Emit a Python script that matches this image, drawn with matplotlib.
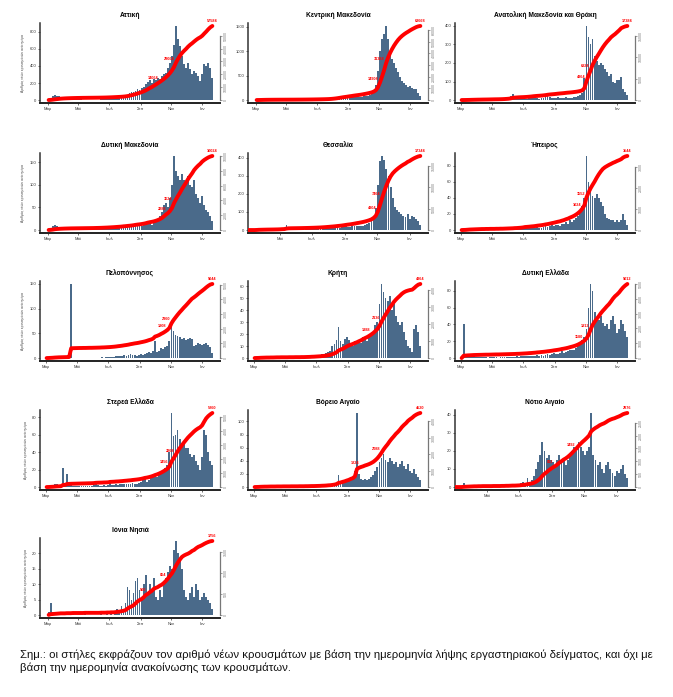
import numpy as np
import matplotlib.pyplot as plt

plt.rcParams['font.family'] = ['Liberation Sans', 'DejaVu Sans']

# daily new cases, mean per 4-day bin, starting 1 Mar 2020
attica = [
    5, 25, 45, 55, 50, 45, 40, 30,
    25, 20, 15, 15, 12, 10, 10, 8,
    8, 6, 5, 5, 5, 4, 4, 5,
    5, 6, 8, 8, 10, 12, 15,
    15, 18, 20, 20, 22, 25, 30, 40,
    60, 80, 90, 100, 110, 130, 120, 140,
    150, 190, 210, 230, 200, 250, 240,
    260, 250, 280, 300, 320, 380, 430, 520,
    650, 870, 720, 640, 520, 420, 380,
    430, 360, 300, 340, 320, 280, 220, 300,
    420, 400, 440, 380, 260]
kentriki_mak = [
    2, 5, 10, 12, 10, 8, 6, 5,
    4, 3, 3, 2, 2, 2, 2, 2,
    2, 2, 2, 3, 3, 3, 3, 4,
    4, 5, 5, 6, 6, 8, 8,
    8, 10, 10, 12, 15, 20, 30, 40,
    50, 60, 70, 75, 70, 60, 65, 70,
    60, 70, 65, 55, 60, 70, 80,
    80, 90, 100, 120, 170, 300, 600, 1000,
    1250, 1350, 1520, 1250, 1000, 850, 750,
    650, 580, 480, 400, 340, 300, 260, 280,
    250, 230, 220, 150, 80]
anat_mak = [
    0, 1, 2, 3, 3, 4, 3, 3,
    3, 2, 3, 2, 2, 2, 3, 3,
    3, 2, 2, 3, 4, 6, 8, 10,
    20, 30, 15, 10, 8, 6, 5,
    6, 8, 10, 12, 15, 12, 10, 8,
    10, 12, 15, 20, 15, 12, 10, 12,
    15, 12, 10, 12, 15, 12, 10,
    12, 15, 15, 20, 25, 40, 120, 400,
    340, 300, 330, 240, 210, 190, 200,
    190, 170, 150, 130, 140, 100, 90, 110,
    110, 125, 60, 45, 25]
dyt_mak = [
    2, 5, 8, 12, 8, 5, 4, 3,
    3, 2, 2, 2, 1, 1, 1, 1,
    1, 1, 1, 1, 1, 1, 1, 2,
    2, 2, 2, 3, 3, 3, 4,
    4, 4, 5, 5, 5, 6, 8, 6,
    8, 6, 8, 10, 12, 10, 8, 10,
    12, 15, 20, 15, 12, 15, 20,
    25, 30, 40, 55, 60, 50, 70, 100,
    164, 130, 120, 110, 125, 110, 105,
    120, 100, 95, 110, 80, 70, 60, 75,
    55, 45, 40, 30, 20]
thessalia = [
    0, 0, 0, 0, 5, 8, 4, 3,
    3, 3, 2, 2, 2, 3, 3, 5,
    8, 5, 30, 15, 3, 2, 2, 2,
    2, 2, 3, 3, 3, 4, 4,
    4, 5, 5, 6, 8, 8, 10, 10,
    12, 10, 12, 15, 12, 15, 18, 20,
    18, 15, 20, 22, 25, 20, 25,
    25, 30, 35, 40, 50, 80, 120, 250,
    380, 410, 390, 340, 300, 240, 180,
    130, 110, 100, 90, 80, 70, 90, 60,
    80, 70, 60, 50, 30]
ipeiros = [
    0, 1, 1, 2, 2, 1, 1, 1,
    1, 1, 1, 0, 1, 0, 1, 0,
    0, 1, 0, 1, 0, 1, 1, 1,
    1, 1, 2, 1, 2, 2, 3,
    5, 2, 2, 3, 2, 3, 4, 3,
    3, 4, 5, 4, 5, 6, 5, 6,
    6, 5, 8, 7, 10, 8, 12,
    10, 12, 15, 18, 22, 30, 40, 92,
    60, 50, 42, 40, 45, 40, 35,
    30, 20, 15, 14, 12, 13, 10, 12,
    10, 12, 20, 12, 6]
peloponnisos = [
    0, 1, 2, 2, 3, 2, 2, 1,
    1, 1, 1, 1, 150, 1, 1, 1,
    1, 0, 1, 0, 1, 1, 0, 1,
    1, 1, 1, 2, 1, 2, 2,
    2, 3, 3, 4, 5, 4, 5, 6,
    5, 6, 8, 6, 7, 5, 6, 8,
    7, 8, 10, 12, 10, 15, 35,
    12, 15, 20, 18, 22, 25, 35, 78,
    55, 46, 45, 42, 38, 40, 36,
    38, 40, 38, 25, 27, 30, 28, 26,
    28, 30, 27, 22, 10]
kriti = [
    0, 1, 1, 2, 1, 1, 1, 0,
    1, 0, 1, 1, 0, 1, 0, 0,
    0, 1, 0, 0, 1, 0, 0, 1,
    0, 1, 1, 1, 2, 1, 2,
    2, 2, 3, 3, 4, 5, 6, 10,
    12, 15, 26, 14, 12, 16, 18, 15,
    12, 10, 14, 12, 15, 13, 18,
    16, 14, 18, 20, 22, 28, 30, 45,
    62, 55, 50, 48, 52, 40, 45,
    35, 30, 28, 30, 22, 15, 10, 8,
    5, 24, 28, 22, 10]
dyt_ellada = [
    0, 40, 2, 3, 2, 2, 2, 1,
    1, 1, 1, 1, 1, 0, 1, 1,
    1, 1, 0, 1, 1, 1, 1, 1,
    1, 1, 1, 2, 1, 2, 2,
    2, 2, 3, 2, 3, 3, 4, 3,
    4, 3, 4, 5, 4, 5, 6, 5,
    5, 6, 8, 6, 7, 8, 10,
    9, 10, 12, 15, 18, 22, 25, 35,
    60, 88, 80, 55, 48, 45, 50,
    42, 38, 40, 35, 45, 50, 40, 30,
    35, 45, 40, 32, 25]
sterea = [
    0, 1, 2, 2, 3, 3, 2, 2,
    22, 2, 15, 2, 2, 1, 1, 1,
    1, 1, 1, 1, 1, 1, 1, 2,
    5, 2, 1, 1, 2, 1, 2,
    7, 2, 2, 3, 2, 3, 3, 4,
    3, 4, 3, 5, 4, 4, 5, 6,
    8, 10, 6, 8, 10, 12, 15,
    12, 15, 17, 20, 22, 25, 40, 85,
    58, 60, 65, 55, 48, 50, 45,
    45, 38, 35, 37, 30, 25, 20, 35,
    65, 60, 40, 30, 25]
voreio_aigaio = [
    0, 1, 1, 2, 1, 1, 0, 1,
    1, 0, 0, 1, 0, 0, 1, 0,
    0, 0, 1, 0, 0, 0, 1, 0,
    0, 1, 0, 1, 1, 0, 1,
    1, 1, 2, 1, 2, 3, 2, 4,
    5, 8, 18, 6, 10, 8, 12, 10,
    15, 12, 25, 113, 20, 12, 10,
    13, 10, 12, 15, 18, 25, 30, 38,
    45, 50, 42, 38, 45, 40, 35,
    38, 30, 35, 40, 32, 28, 35, 25,
    22, 28, 20, 15, 10]
notio_aigaio = [
    0, 0, 0, 0, 2, 1, 1, 1,
    1, 1, 0, 1, 0, 1, 0, 0,
    0, 0, 1, 0, 0, 0, 1, 0,
    1, 0, 1, 1, 0, 1, 1,
    2, 3, 2, 5, 3, 4, 6, 10,
    14, 18, 25, 20, 16, 18, 15, 14,
    12, 15, 18, 14, 16, 12, 15,
    18, 20, 22, 20, 25, 22, 20, 18,
    20, 22, 41, 18, 15, 12, 14,
    10, 8, 12, 14, 10, 8, 6, 9,
    8, 10, 12, 7, 5]
ionia = [
    1, 4, 1, 1, 1, 1, 1, 0,
    0, 1, 0, 0, 1, 0, 0, 0,
    0, 0, 1, 0, 0, 0, 0, 0,
    0, 0, 1, 0, 0, 1, 0,
    1, 0, 1, 2, 1, 3, 2, 4,
    9, 8, 5, 7, 11, 12, 8, 6,
    10, 13, 7, 10, 8, 12, 6,
    5, 8, 6, 10, 12, 14, 16, 15,
    21, 24, 20, 18, 15, 8, 6,
    5, 7, 9, 6, 10, 8, 5, 6,
    7, 6, 5, 4, 2]

region_names = ['Αττική', 'Κεντρική Μακεδονία', 'Ανατολική Μακεδονία και Θράκη',
                'Δυτική Μακεδονία', 'Θεσσαλία', 'Ήπειρος',
                'Πελοπόννησος', 'Κρήτη', 'Δυτική Ελλάδα',
                'Στερεά Ελλάδα', 'Βόρειο Αιγαίο', 'Νότιο Αιγαίο',
                'Ιόνια Νησιά']
region_series = [attica, kentriki_mak, anat_mak, dyt_mak, thessalia, ipeiros,
                 peloponnisos, kriti, dyt_ellada, sterea, voreio_aigaio,
                 notio_aigaio, ionia]
# bins where the cumulative total is written on the red line
label_bins = [[55, 63], [61, 64], [61, 63], [59, 62], [61, 63], [59, 61],
              [59, 61], [57, 62], [60, 63], [60, 63], [52, 62], [47, 57],
              [49, 59]]

month_days = [0, 61, 122, 184, 245, 306]
month_labels = ['Μαρ', 'Μαϊ', 'Ιουλ', 'Σεπ', 'Νοε', 'Ιαν']
ylabel_txt = 'Αριθμός νέων κρουσμάτων ανά ημέρα'
note_txt = ('Σημ.: οι στήλες εκφράζουν τον αριθμό νέων κρουσμάτων με βάση την ημερομηνία '
            'λήψης εργαστηριακού δείγματος, και όχι με\nβάση την ημερομηνία ανακοίνωσης '
            'των κρουσμάτων.')

BIN = 4
BAR = '#4a6a8a'
RED = '#ff0000'
W, H = 673, 697
col_left = [40, 248, 455]
row_top = [23, 153, 281, 410, 538]
ax_w, ax_h = 180, 80


def pretty_step(top, n=5):
    # R-like pretty() step
    cell = top / n
    u = 10 ** np.floor(np.log10(cell))
    unit = u
    if 2 * u - cell < 1.5 * (cell - unit):
        unit = 2 * u
        if 5 * u - cell < 2.75 * (cell - unit):
            unit = 5 * u
            if 10 * u - cell < 1.5 * (cell - unit):
                unit = 10 * u
    return unit


def draw_panel(fig, i, name, vals, lbins):
    r, c = divmod(i, 3)
    ax = fig.add_axes([col_left[c] / W, 1 - (row_top[r] + ax_h) / H, ax_w / W, ax_h / H])
    vals = np.array(vals, dtype=float)
    starts = np.arange(len(vals)) * BIN
    x = starts + BIN / 2
    ax.bar(x, vals, width=BIN * 0.88, color=BAR, linewidth=0)

    first = starts[np.nonzero(vals)[0][0]]
    last = starts[-1] + BIN
    span = last - first
    ax.set_xlim(first - 0.04 * span - 2, last + 0.04 * span)
    lo, hi = ax.get_xlim()
    ticks = [(d, l) for d, l in zip(month_days, month_labels) if lo <= d <= hi]
    ax.set_xticks([t[0] for t in ticks])
    ax.set_xticklabels([t[1] for t in ticks])

    m = vals.max()
    ax.set_ylim(-0.04 * m, 1.04 * m)
    st = pretty_step(m)
    ax.set_yticks(np.arange(0, 1.04 * m, st))
    ax.yaxis.set_major_formatter(plt.FuncFormatter(lambda v, p: f'{v:.0f}'))

    for s in ['top', 'right']:
        ax.spines[s].set_visible(False)
    ax.spines['left'].set_linewidth(1.1)
    ax.spines['left'].set_color('#333333')
    ax.spines['bottom'].set_linewidth(1.4)
    ax.spines['bottom'].set_color('#222222')
    ax.tick_params(axis='both', labelsize=3, length=1.5, width=0.5, pad=1.2, colors='#333333')
    ax.set_title(name, fontsize=4.8, fontweight='bold', pad=4)
    if c == 0:
        ax.set_ylabel(ylabel_txt, fontsize=2.4, labelpad=3, color='#444444')

    # cumulative cases on the right axis
    ax2 = ax.twinx()
    cum = np.cumsum(vals * BIN)
    cm = cum[-1]
    ax2.plot(x, cum, color=RED, lw=2.8, solid_capstyle='round', zorder=3)
    ax2.set_ylim(-0.04 * cm, 1.04 * cm)
    st2 = pretty_step(cm)
    rt = np.arange(0, 1.04 * cm, st2)
    ax2.set_yticks(rt)
    ax2.yaxis.set_major_formatter(plt.FuncFormatter(lambda v, p: f'{v:.0f}'))
    for s in ['top', 'left', 'bottom']:
        ax2.spines[s].set_visible(False)
    ax2.spines['right'].set_bounds(0, rt[-1])
    ax2.spines['right'].set_color('#777777')
    ax2.spines['right'].set_linewidth(0.9)
    ax2.tick_params(axis='y', labelsize=2.6, length=1.5, width=0.5, pad=1,
                    colors='#777777', labelrotation=90)
    for lab in ax2.get_yticklabels():
        lab.set_va('center')

    for b in lbins:
        ax2.annotate(f'{cum[b]:.0f}', (x[b], cum[b]), xytext=(-1, 1.5),
                     textcoords='offset points', ha='right', va='bottom',
                     fontsize=2.8, color=RED, fontweight='bold')
    ax2.annotate(f'{cm:.0f}', (x[-1], cm), xytext=(0, 2), textcoords='offset points',
                 ha='center', va='bottom', fontsize=2.8, color=RED, fontweight='bold')


fig = plt.figure(figsize=(W / 100, H / 100), dpi=100)
for i, (name, vals) in enumerate(zip(region_names, region_series)):
    draw_panel(fig, i, name, vals, label_bins[i])

fig.text(20 / W, 1 - 661 / H, note_txt, fontsize=8.2, va='center', ha='left',
         linespacing=1.35, color='#111111')

fig.savefig('out.png', dpi=100)
